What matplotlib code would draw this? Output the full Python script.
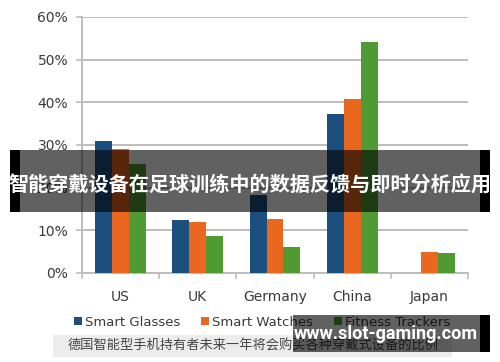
import numpy as np
import matplotlib
matplotlib.use("Agg")
import matplotlib.pyplot as plt
from matplotlib.patches import Rectangle

plt.rcParams['font.family'] = ['DejaVu Sans', 'Noto Sans CJK SC']

# 数据
countries = ['US', 'UK', 'Germany', 'China', 'Japan']
smart_glasses = [0.31, 0.124, 0.183, 0.372, 0.0]
smart_watches = [0.29, 0.12, 0.126, 0.407, 0.05]
fitness_trackers = [0.255, 0.087, 0.06, 0.542, 0.048]
series_names = ['Smart Glasses', 'Smart Watches', 'Fitness Trackers']
colors = ['#1b4f7e', '#e9671f', '#4f9a32']
yticks = [0, 0.1, 0.2, 0.3, 0.4, 0.5, 0.6]
banner_text = '智能穿戴设备在足球训练中的数据反馈与即时分析应用'
caption_text = '德国智能型手机持有者未来一年将会购买各种穿戴式设备的比例'
watermark_text = 'www.slot-gaming.com'

W, H = 500, 362
fig = plt.figure(figsize=(W / 100, H / 100), dpi=100)
fig.patch.set_facecolor('white')

def px(x0, y0, x1, y1):
    # 像素坐标(左上原点) -> figure坐标
    return [x0 / W, 1 - y1 / H, (x1 - x0) / W, (y1 - y0) / H]

ax = fig.add_axes(px(82, 17, 468, 273))
x = np.arange(len(countries))
bw = 0.22
data = [smart_glasses, smart_watches, fitness_trackers]
bars = []
for i, vals in enumerate(data):
    b = ax.bar(x + (i - 1) * bw, vals, bw, color=colors[i], label=series_names[i], zorder=3)
    bars.append(b)

ax.set_xlim(-0.5, len(countries) - 0.5)
ax.set_ylim(0, 0.6)
ax.set_yticks(yticks)
ax.set_yticklabels(['%d%%' % round(v * 100) for v in yticks])
ax.yaxis.grid(True, color='#bdbdbd', lw=1.4, zorder=0)
ax.set_xticks(x)
ax.set_xticklabels(countries)
ax.set_xticks(np.arange(-0.5, len(countries)), minor=True)
ax.tick_params(axis='x', which='major', length=0, pad=12, labelsize=10, labelcolor='#3a3a3a')
ax.tick_params(axis='x', which='minor', length=4, color='#bdbdbd', width=1.2)
ax.tick_params(axis='y', length=4, color='#bdbdbd', width=1.2, pad=6, labelsize=10, labelcolor='#3a3a3a')
for s in ['top', 'right']:
    ax.spines[s].set_visible(False)
for s in ['left', 'bottom']:
    ax.spines[s].set_color('#bdbdbd')
    ax.spines[s].set_linewidth(1.4)

fig.legend(handles=bars, labels=series_names, loc='center', bbox_to_anchor=(262 / W, 1 - 322 / H),
           ncol=3, frameon=False, fontsize=9.5, handlelength=0.6, handleheight=0.6,
           handletextpad=0.2, columnspacing=1.6, labelcolor='#3a3a3a')

# 底部说明文字
fig.patches.append(Rectangle((53 / W, 1 - 357 / H), 399 / W, 22 / H, transform=fig.transFigure,
                             facecolor='#ececec', edgecolor='none', zorder=5))
fig.text(253 / W, 1 - 346 / H, caption_text, ha='center', va='center', fontsize=9.5,
         color='#444444', family=['Noto Sans CJK SC'], zorder=6)

# 标题横幅
fig.patches.append(Rectangle((10 / W, 1 - 212 / H), 480 / W, 62 / H, transform=fig.transFigure,
                             facecolor='black', alpha=0.62, edgecolor='none', zorder=10))
for xs in (10, 480):
    fig.patches.append(Rectangle((xs / W, 1 - 212 / H), 10 / W, 62 / H, transform=fig.transFigure,
                                 facecolor='black', edgecolor='none', zorder=10))
fig.text(250 / W, 1 - 184 / H, banner_text, ha='center', va='center', fontsize=14.5,
         color='white', fontweight='bold', family=['Noto Sans CJK SC'], zorder=11)

# 水印
fig.patches.append(Rectangle((293 / W, 1 - 352 / H), 197 / W, 37 / H, transform=fig.transFigure,
                             facecolor='black', alpha=0.62, edgecolor='none', zorder=10))
fig.patches.append(Rectangle((480 / W, 1 - 352 / H), 10 / W, 37 / H, transform=fig.transFigure,
                             facecolor='black', edgecolor='none', zorder=10))
fig.text(386 / W, 1 - 334 / H, watermark_text, ha='center', va='center', fontsize=13,
         color='white', fontweight='bold', family=['Roboto'], zorder=11)

fig.savefig('out.png', dpi=100)
